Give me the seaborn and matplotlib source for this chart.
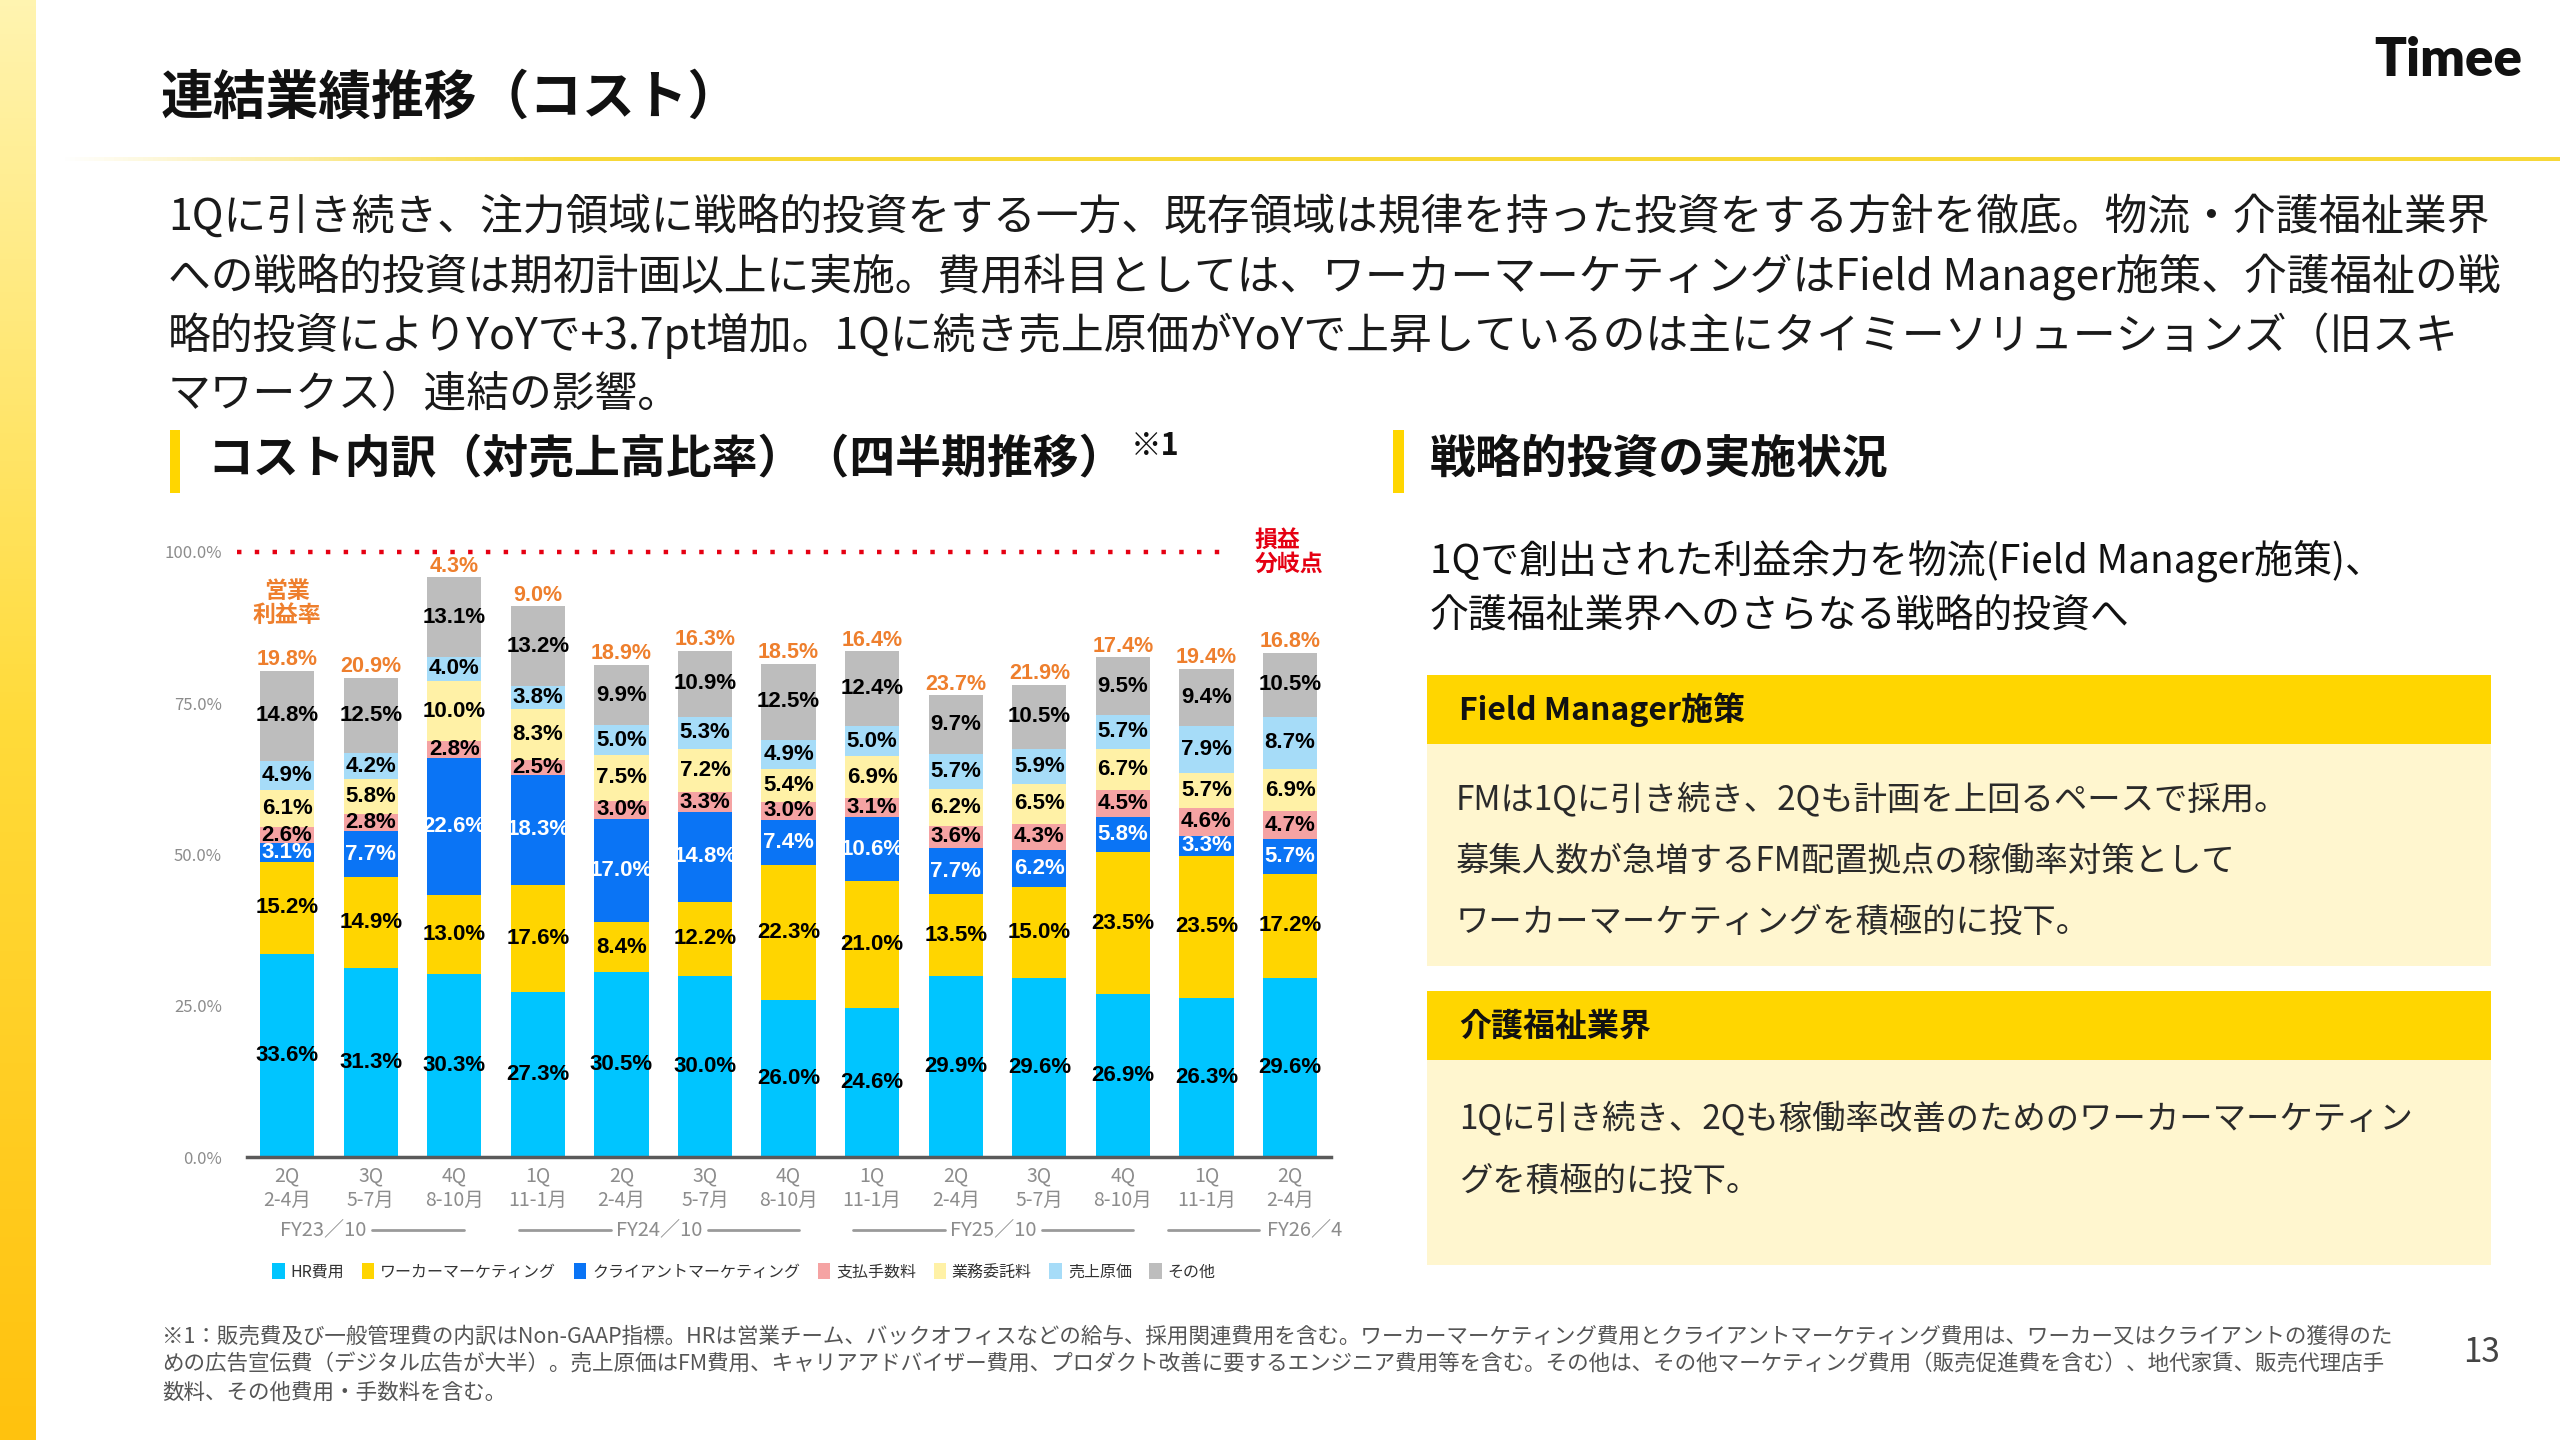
import numpy as np
import pandas as pd
import matplotlib
matplotlib.use('Agg')
import matplotlib.pyplot as plt
from matplotlib.patches import Rectangle, Patch
from matplotlib.colors import LinearSegmentedColormap, to_rgb
import seaborn as sns

# x axis: quarters
quarters = ['2Q', '3Q', '4Q', '1Q', '2Q', '3Q', '4Q', '1Q', '2Q', '3Q', '4Q', '1Q', '2Q']
months = ['2-4月', '5-7月', '8-10月', '11-1月', '2-4月', '5-7月', '8-10月',
          '11-1月', '2-4月', '5-7月', '8-10月', '11-1月', '2-4月']
fiscal_years = ['FY23／10', 'FY24／10', 'FY25／10', 'FY26／4']
fy_first = [0, 3, 7, 11]
fy_last = [2, 6, 10, 12]

# cost ratio to revenue (%), stacked bottom -> top
hr_cost = [33.6, 31.3, 30.3, 27.3, 30.5, 30.0, 26.0, 24.6, 29.9, 29.6, 26.9, 26.3, 29.6]
worker_mkt = [15.2, 14.9, 13.0, 17.6, 8.4, 12.2, 22.3, 21.0, 13.5, 15.0, 23.5, 23.5, 17.2]
client_mkt = [3.1, 7.7, 22.6, 18.3, 17.0, 14.8, 7.4, 10.6, 7.7, 6.2, 5.8, 3.3, 5.7]
payment_fee = [2.6, 2.8, 2.8, 2.5, 3.0, 3.3, 3.0, 3.1, 3.6, 4.3, 4.5, 4.6, 4.7]
outsourcing = [6.1, 5.8, 10.0, 8.3, 7.5, 7.2, 5.4, 6.9, 6.2, 6.5, 6.7, 5.7, 6.9]
cost_of_sales = [4.9, 4.2, 4.0, 3.8, 5.0, 5.3, 4.9, 5.0, 5.7, 5.9, 5.7, 7.9, 8.7]
other = [14.8, 12.5, 13.1, 13.2, 9.9, 10.9, 12.5, 12.4, 9.7, 10.5, 9.5, 9.4, 10.5]
op_margin = [19.8, 20.9, 4.3, 9.0, 18.9, 16.3, 18.5, 16.4, 23.7, 21.9, 17.4, 19.4, 16.8]
breakeven = 100.0

items = ['HR費用', 'ワーカーマーケティング', 'クライアントマーケティング', '支払手数料',
         '業務委託料', '売上原価', 'その他']
series = [hr_cost, worker_mkt, client_mkt, payment_fee, outsourcing, cost_of_sales, other]
item_colors = ['#00C5FF', '#FFD500', '#0A74F5', '#F5A3A3', '#FFF1A6', '#A6DCF8', '#BDBDBD']
label_colors = ['black', 'black', 'white', 'black', 'black', 'black', 'black']

# slide texts
title = '連結業績推移（コスト）'
lead_lines = [
    '1Qに引き続き、注力領域に戦略的投資をする一方、既存領域は規律を持った投資をする方針を徹底。物流・介護福祉業界',
    'への戦略的投資は期初計画以上に実施。費用科目としては、ワーカーマーケティングはField Manager施策、介護福祉の戦',
    '略的投資によりYoYで+3.7pt増加。1Qに続き売上原価がYoYで上昇しているのは主にタイミーソリューションズ（旧スキ',
    'マワークス）連結の影響。',
]
left_header = 'コスト内訳（対売上高比率）（四半期推移）'
right_header = '戦略的投資の実施状況'
right_sub = ['1Qで創出された利益余力を物流(Field Manager施策)、', '介護福祉業界へのさらなる戦略的投資へ']
box1_title = 'Field Manager施策'
box1_lines = ['FMは1Qに引き続き、2Qも計画を上回るペースで採用。',
              '募集人数が急増するFM配置拠点の稼働率対策として',
              'ワーカーマーケティングを積極的に投下。']
box2_title = '介護福祉業界'
box2_lines = ['1Qに引き続き、2Qも稼働率改善のためのワーカーマーケティン',
              'グを積極的に投下。']
footnotes = [
    '※1：販売費及び一般管理費の内訳はNon-GAAP指標。HRは営業チーム、バックオフィスなどの給与、採用関連費用を含む。ワーカーマーケティング費用とクライアントマーケティング費用は、ワーカー又はクライアントの獲得のた',
    'めの広告宣伝費（デジタル広告が大半）。売上原価はFM費用、キャリアアドバイザー費用、プロダクト改善に要するエンジニア費用等を含む。その他は、その他マーケティング費用（販売促進費を含む）、地代家賃、販売代理店手',
    '数料、その他費用・手数料を含む。',
]

sns.set_theme(style='white')
plt.rcParams['font.family'] = ['Noto Sans CJK JP', 'DejaVu Sans']
NUM = ['Liberation Sans', 'DejaVu Sans']
YELLOW = '#FFD600'
ORANGE = '#EE7F2D'
RED = '#E50012'

fig = plt.figure(figsize=(25.6, 14.4), dpi=100)
fig.patch.set_facecolor('white')

# background layer in pixel coordinates
bg = fig.add_axes([0, 0, 1, 1], zorder=0)
grad = np.linspace(0, 1, 256).reshape(-1, 1)
strip_cmap = LinearSegmentedColormap.from_list('strip', ['#FFF4B0', '#FFDB3A', '#FFC20E'])
bg.imshow(grad, extent=(0, 36, 1440, 0), cmap=strip_cmap, aspect='auto')
ramp = np.ones((1, 512, 4))
ramp[..., :3] = to_rgb('#F7D838')
ramp[0, :, 3] = np.clip(np.linspace(0, 5, 512), 0, 1)
bg.imshow(ramp, extent=(60, 2560, 161, 157), aspect='auto')
bg.set_xlim(0, 2560)
bg.set_ylim(1440, 0)
bg.axis('off')

bg.text(161, 98, title, fontsize=38, fontweight='bold', color='#111111', va='center')
bg.text(2522, 60, 'Timee', fontsize=38, fontweight='heavy', family=['Lato', 'DejaVu Sans'],
        color='#111111', va='center', ha='right')
for k, line in enumerate(lead_lines):
    bg.text(168, 218 + 59 * k, line, fontsize=30.8, color='#1a1a1a', va='center')

# section headers
bg.add_patch(Rectangle((170, 430), 10, 63, color=YELLOW, lw=0))
bg.text(207, 460, left_header, fontsize=33, fontweight='bold', color='#111111', va='center')
bg.text(1131, 446, '※1', fontsize=22, fontweight='bold', color='#111111', va='center')
bg.add_patch(Rectangle((1393, 430), 11, 63, color=YELLOW, lw=0))
bg.text(1430, 460, right_header, fontsize=33, fontweight='bold', color='#111111', va='center')
for k, line in enumerate(right_sub):
    bg.text(1430, 561 + 54 * k, line, fontsize=28, color='#111111', va='center')

# right boxes
BODY = '#FFF6CF'
bg.add_patch(Rectangle((1427, 675), 1064, 69, color=YELLOW, lw=0))
bg.add_patch(Rectangle((1427, 744), 1064, 222, color=BODY, lw=0))
bg.text(1459, 710, box1_title, fontsize=23, fontweight='bold', color='#111111', va='center')
for k, line in enumerate(box1_lines):
    bg.text(1456, 800 + 61 * k, line, fontsize=24, color='#2a2a2a', va='center')
bg.add_patch(Rectangle((1427, 991), 1064, 69, color=YELLOW, lw=0))
bg.add_patch(Rectangle((1427, 1060), 1064, 205, color=BODY, lw=0))
bg.text(1459, 1026, box2_title, fontsize=23, fontweight='bold', color='#111111', va='center')
for k, line in enumerate(box2_lines):
    bg.text(1459, 1119 + 62 * k, line, fontsize=24, color='#2a2a2a', va='center')

# footnote and page number
for k, line in enumerate(footnotes):
    bg.text(162, 1337 + 28 * k, line, fontsize=15.5, color='#555555', va='center')
bg.text(2482, 1353, '13', fontsize=24, color='#444444', va='center', ha='center')

# stacked bar chart
rows = []
for name, vals in zip(items, series):
    for i, v in enumerate(vals):
        rows.append({'pos': i, 'item': name, 'value': v})
df = pd.DataFrame(rows)

ax = fig.add_axes([247 / 2560, 1 - 1157 / 1440, 1084 / 2560, 605 / 1440], zorder=2)
ax.patch.set_alpha(0)
sns.histplot(data=df, x='pos', weights='value', hue='item', hue_order=items[::-1],
             palette=dict(zip(items, item_colors)), multiple='stack', discrete=True,
             shrink=0.65, alpha=1, linewidth=0, legend=False, ax=ax)

vals = np.array(series)
tops = vals.cumsum(axis=0)
mids = tops - vals / 2
for s in range(len(items)):
    for j in range(len(quarters)):
        ax.text(j, mids[s, j], f'{vals[s, j]:.1f}%', ha='center', va='center',
                fontsize=16, fontweight='bold', family=NUM, color=label_colors[s])
for j, m in enumerate(op_margin):
    ax.annotate(f'{m:.1f}%', xy=(j, tops[-1, j]), xytext=(0, 0.5), textcoords='offset points',
                ha='center', va='bottom', fontsize=15.5, fontweight='bold', family=NUM,
                color=ORANGE, annotation_clip=False, zorder=5)
ax.annotate('営業\n利益率', xy=(0, tops[-1, 0]), xytext=(0, 68), textcoords='offset pixels',
            ha='center', va='center', fontsize=16.5, fontweight='bold', color=ORANGE,
            linespacing=1.05, annotation_clip=False)

# break-even line
ax.axhline(breakeven, xmin=-0.009, xmax=0.902, color=RED, lw=3.2,
           linestyle=(0, (1, 3)), dash_capstyle='butt', clip_on=False, zorder=1)
ax.text(11.58, breakeven, '損益\n分岐点', ha='left', va='center', fontsize=16.5,
        fontweight='bold', color=RED, linespacing=1.05)

ax.set_xlim(-0.48, 12.49)
ax.set_ylim(0, 100)
ax.set_xlabel('')
ax.set_ylabel('')
ax.set_yticks([0, 25, 50, 75, 100])
ax.set_yticklabels([f'{v:.1f}%' for v in [0, 25, 50, 75, 100]])
ax.set_xticks(range(len(quarters)))
ax.set_xticklabels([f'{q}\n{m}' for q, m in zip(quarters, months)])
ax.tick_params(axis='y', length=0, pad=18, labelsize=12, labelcolor='#8c8c8c')
ax.tick_params(axis='x', length=0, pad=6, labelsize=14, labelcolor='#8c8c8c')
for side in ['top', 'right', 'left']:
    ax.spines[side].set_visible(False)
ax.spines['bottom'].set_color('#5a5a5a')
ax.spines['bottom'].set_linewidth(2.5)
ax.grid(False)

# fiscal year brackets under the quarter labels
tr = ax.get_xaxis_transform()
fy_y = -0.12
line_kw = dict(color='#9a9a9a', lw=2, transform=tr, clip_on=False)
for k, (name, a, b) in enumerate(zip(fiscal_years, fy_first, fy_last)):
    if k == 0:
        ax.text(a - 0.08, fy_y, name, transform=tr, ha='left', va='center', fontsize=14.5, color='#8c8c8c')
        ax.plot([a + 1.02, b + 0.12], [fy_y, fy_y], **line_kw)
    elif k == len(fiscal_years) - 1:
        ax.plot([a - 0.46, a + 0.63], [fy_y, fy_y], **line_kw)
        ax.text(a + 0.73, fy_y, name, transform=tr, ha='left', va='center', fontsize=14.5, color='#8c8c8c')
    else:
        c = (a + b) / 2 - 0.05
        ax.text(c, fy_y, name, transform=tr, ha='center', va='center', fontsize=14.5, color='#8c8c8c')
        ax.plot([a - 0.23, c - 0.58], [fy_y, fy_y], **line_kw)
        ax.plot([c + 0.58, b + 0.12], [fy_y, fy_y], **line_kw)

handles = [Patch(facecolor=c, edgecolor='none') for c in item_colors]
leg = fig.legend(handles, items, loc='center left', bbox_to_anchor=(272 / 2560, 1 - 1272 / 1440),
                 ncol=7, frameon=False, fontsize=11.5, handlelength=0.8, handleheight=1.1,
                 handletextpad=0.35, columnspacing=1.1, borderpad=0, borderaxespad=0)
for t in leg.get_texts():
    t.set_color('#333333')

fig.savefig('out.png', dpi=100, facecolor='white')
